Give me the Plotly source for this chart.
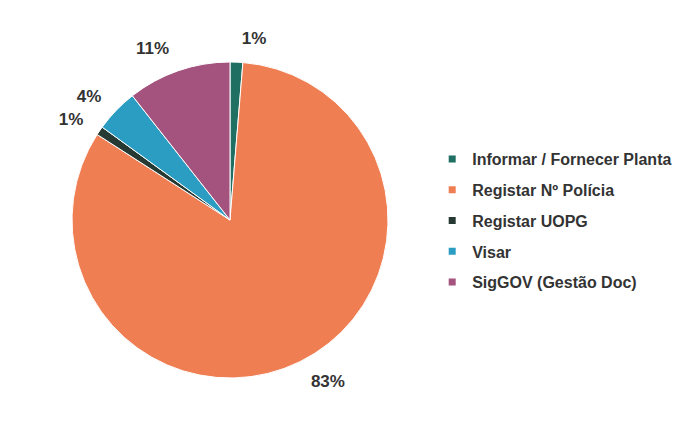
import plotly.graph_objects as go

labels = ["Informar / Fornecer Planta", "Registar Nº Polícia", "Registar UOPG", "Visar", "SigGOV (Gestão Doc)"]
values = [1.3, 82.8, 0.9, 4.4, 10.6]
colors = ["#1f6f63", "#f07e53", "#263a33", "#2b9cc2", "#a4527e"]

W, H = 692, 426
cx, cy, r = 222, 212, 158
lr = r + 14  # radius of the (transparent) label ring

font_family = "Liberation Sans, Arial, sans-serif"

fig = go.Figure()

# transparent ring carrying the outside percentage labels
fig.add_trace(go.Pie(
    labels=labels, values=values, sort=False, direction="clockwise", rotation=0,
    marker=dict(colors=["rgba(0,0,0,0)"] * len(values), line=dict(width=0)),
    texttemplate="%{percent:.0%}", textposition="outside",
    textfont=dict(family=font_family, size=17, color="#333333", weight="bold"),
    domain=dict(x=[(cx - lr) / W, (cx + lr) / W], y=[1 - (cy + lr) / H, 1 - (cy - lr) / H]),
    showlegend=False, hoverinfo="skip",
))

# visible pie
fig.add_trace(go.Pie(
    labels=labels, values=values, sort=False, direction="clockwise", rotation=0,
    marker=dict(colors=colors, line=dict(color="white", width=1)),
    textinfo="none",
    domain=dict(x=[(cx - r) / W, (cx + r) / W], y=[1 - (cy + r) / H, 1 - (cy - r) / H]),
    showlegend=False,
))

# legend entries
for lab, col in zip(labels, colors):
    fig.add_trace(go.Scatter(
        x=[None], y=[None], mode="markers", name=lab, legendgroup=lab,
        marker=dict(symbol="square", size=7, color=col),
    ))

fig.update_layout(
    width=W, height=H,
    margin=dict(l=0, r=0, t=0, b=0),
    paper_bgcolor="white",
    plot_bgcolor="white",
    xaxis=dict(visible=False),
    yaxis=dict(visible=False),
    legend=dict(
        x=0.613, y=1 - 212.5 / H, xanchor="left", yanchor="middle",
        font=dict(family=font_family, size=16, color="#333333", weight="bold"),
        itemwidth=30,
        tracegroupgap=7,
        bgcolor="rgba(0,0,0,0)",
    ),
)

fig.write_html("out.html")
